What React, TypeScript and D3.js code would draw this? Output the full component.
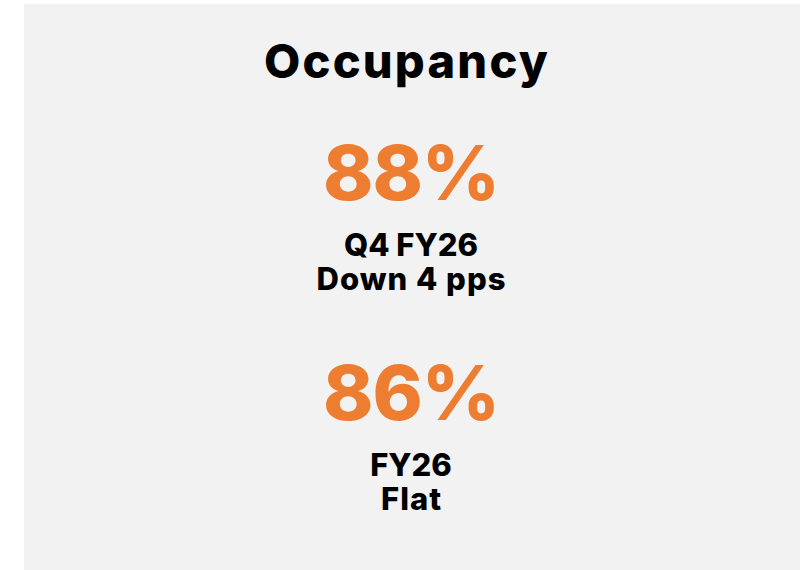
import React from "react";
import * as d3 from "d3";

const title = "Occupancy";
const kpiValues = [88, 86];
const kpiPeriods = ["Q4 FY26", "FY26"];
const kpiChanges = ["Down 4 pps", "Flat"];

const W = 811;
const H = 570;
const FONT = "Inter, 'Open Sans', sans-serif";

export default function App() {
  const fmt = d3.format("d");
  const cx = 411;
  const yBlock = d3.scaleOrdinal<number, number>().domain([0, 1]).range([200, 420]);
  return (
    <svg width={W} height={H} style={{ position: "absolute", left: 0, top: 0 }}>
      <rect x={24} y={4} width={776} height={H - 4} fill="#f2f2f2" />
      <text x={cx - 4} y={78} textAnchor="middle" fontFamily={FONT} fontWeight={800} fontSize={47} letterSpacing={2.2} fill="#000">
        {title}
      </text>
      {kpiValues.map((v, i) => {
        const y = yBlock(i);
        return (
          <g key={i}>
            <text x={cx} y={y} textAnchor="middle" fontFamily={FONT} fontWeight={800} fontSize={76} letterSpacing={-1} fill="#ED7D31">
              {fmt(v)}%
            </text>
            <text x={cx} y={y + 56} textAnchor="middle" fontFamily={FONT} fontWeight={800} fontSize={31} fill="#000">
              {kpiPeriods[i]}
            </text>
            <text x={cx + 0.5} y={y + 90} textAnchor="middle" fontFamily={FONT} fontWeight={800} fontSize={31} letterSpacing={1} fill="#000">
              {kpiChanges[i]}
            </text>
          </g>
        );
      })}
    </svg>
  );
}
